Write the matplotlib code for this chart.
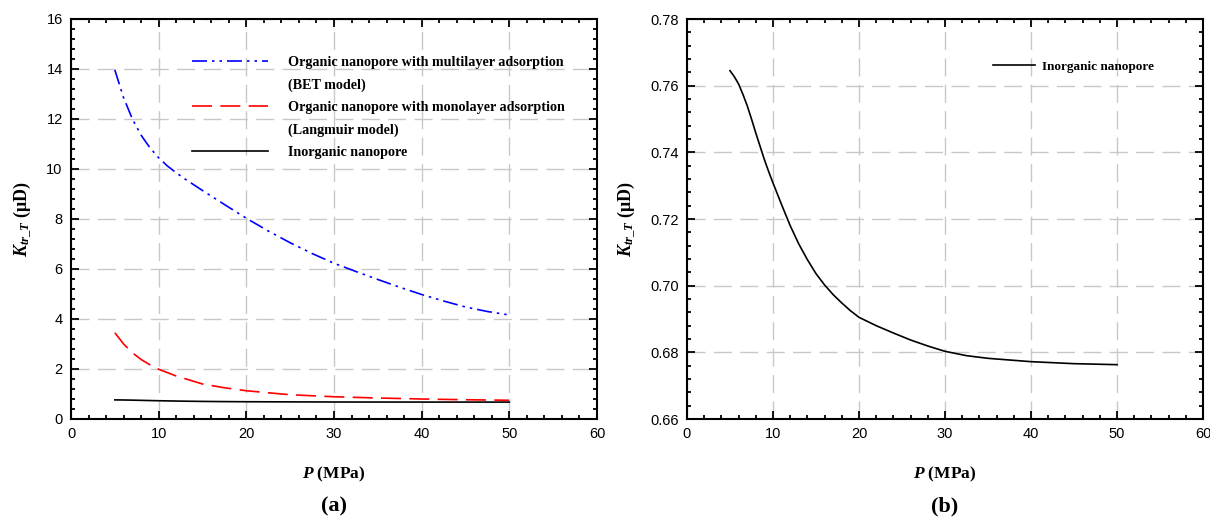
import matplotlib
matplotlib.use("Agg")
import matplotlib.pyplot as plt
from matplotlib.lines import Line2D
from matplotlib.ticker import MultipleLocator, FormatStrFormatter

# Pressure (MPa) and apparent permeability K_tr_T (μD)
p_bet = [5, 6, 7, 8, 9, 10, 11, 12, 13, 15, 17.5, 20, 22.5, 25, 27.5, 30, 32.5, 35, 37.5, 40, 42.5, 45, 47.5, 50]
k_bet = [13.96, 12.85, 12.0, 11.35, 10.85, 10.45, 10.12, 9.85, 9.6, 9.14, 8.58, 8.03, 7.52, 7.05, 6.62, 6.23, 5.9, 5.58, 5.27, 4.98, 4.72, 4.48, 4.3, 4.16]

p_lang = [5, 6, 7, 8, 9, 10, 12, 15, 17.5, 20, 25, 30, 35, 40, 45, 50]
k_lang = [3.45, 3.0, 2.65, 2.38, 2.17, 1.99, 1.72, 1.4, 1.25, 1.13, 0.97, 0.89, 0.84, 0.8, 0.77, 0.75]

p_inorg = [5, 5.5, 6, 6.5, 7, 7.5, 8, 8.5, 9, 9.5, 10, 11, 12, 13, 14, 15, 16, 17, 18, 19, 20,
           22, 24, 26, 28, 30, 32.5, 35, 37.5, 40, 45, 50]
k_inorg = [0.7645, 0.7627, 0.7605, 0.7574, 0.7540, 0.7500, 0.7458, 0.7418, 0.7378, 0.7342, 0.7308, 0.7243,
           0.7180, 0.7125, 0.7078, 0.7036, 0.7002, 0.6973, 0.6948, 0.6925, 0.6905,
           0.6880, 0.6858, 0.6837, 0.6819, 0.6803, 0.6790, 0.6782, 0.6777, 0.6772, 0.6766, 0.6763]

label_rows = ["Organic nanopore with multilayer adsorption", "(BET model)",
              "Organic nanopore with monolayer adsorption", "(Langmuir model)",
              "Inorganic nanopore"]

plt.rcParams["mathtext.fontset"] = "custom"
plt.rcParams["mathtext.it"] = "Liberation Serif:italic:bold"
plt.rcParams["mathtext.rm"] = "Liberation Serif:bold"
plt.rcParams["mathtext.bf"] = "Liberation Serif:bold"

TICK_FONT = "Liberation Sans"
SERIF = "Liberation Serif"
GRID_KW = dict(color="#c8c8c8", linewidth=1.0, linestyle=(0, (13, 6)))

fig = plt.figure(figsize=(12.1, 5.23), dpi=100)
ax1 = fig.add_axes([71 / 1210, 1 - 419 / 523, 526 / 1210, 400 / 523])
ax2 = fig.add_axes([687 / 1210, 1 - 419 / 523, 516 / 1210, 400 / 523])


def style(ax, ymaj, ymin, fmt):
    ax.set_xlim(0, 60)
    ax.xaxis.set_major_locator(MultipleLocator(10))
    ax.xaxis.set_minor_locator(MultipleLocator(2))
    ax.yaxis.set_major_locator(MultipleLocator(ymaj))
    ax.yaxis.set_minor_locator(MultipleLocator(ymin))
    ax.yaxis.set_major_formatter(FormatStrFormatter(fmt))
    ax.tick_params(which="both", direction="in", top=True, right=True, width=1.3)
    ax.tick_params(which="major", length=6)
    ax.tick_params(which="minor", length=3)
    ax.tick_params(which="major", labelsize=10.5, pad=6)
    for lab in ax.get_xticklabels() + ax.get_yticklabels():
        lab.set_fontfamily(TICK_FONT)
    for s in ax.spines.values():
        s.set_linewidth(1.5)
    ax.grid(True, which="major", **GRID_KW)
    ax.set_axisbelow(True)
    ax.set_xlabel(r"$P$ (MPa)", fontfamily=SERIF, fontweight="bold", fontsize=12.5, labelpad=17)
    ax.set_ylabel(r"$K_{tr\_T}$ (μD)", fontfamily=SERIF, fontweight="bold", fontsize=13, labelpad=9)


# Panel (a)
bet_line, = ax1.plot(p_bet, k_bet, color="#0000ff", linewidth=1.2,
                     linestyle=(0, (9, 3, 1.5, 3, 1.5, 3)))
lang_line, = ax1.plot(p_lang, k_lang, color="#ff0000", linewidth=1.2,
                      linestyle=(0, (12, 5)))
inorg_line, = ax1.plot(p_inorg, k_inorg, color="black", linewidth=1.2)
ax1.set_ylim(0, 16)
style(ax1, 2, 0.4, "%d")

# continuation rows of the two-line labels carry an empty handle
blank = Line2D([], [], linestyle="none")
leg1 = ax1.legend([bet_line, blank, lang_line, blank, inorg_line], label_rows,
                  loc="upper left", bbox_to_anchor=(0.205, 0.94), frameon=False,
                  prop=dict(family=SERIF, weight="bold", size=10.2),
                  handlelength=5.4, handletextpad=1.4, labelspacing=0.66)

# Panel (b)
ax2.plot(p_inorg, k_inorg, color="black", linewidth=1.2, label=label_rows[4])
ax2.set_ylim(0.66, 0.78)
style(ax2, 0.02, 0.004, "%.2f")
ax2.legend(loc="upper left", bbox_to_anchor=(0.57, 0.925), frameon=False,
           prop=dict(family=SERIF, weight="bold", size=9.5),
           handlelength=3.2, handletextpad=0.5)

fig.text(ax1.get_position().x0 + ax1.get_position().width / 2, 1 - 506 / 523, "(a)",
         ha="center", va="center", fontfamily=SERIF, fontweight="bold", fontsize=16)
fig.text(ax2.get_position().x0 + ax2.get_position().width / 2, 1 - 506 / 523, "(b)",
         ha="center", va="center", fontfamily=SERIF, fontweight="bold", fontsize=16)

fig.savefig("out.png", dpi=100)
